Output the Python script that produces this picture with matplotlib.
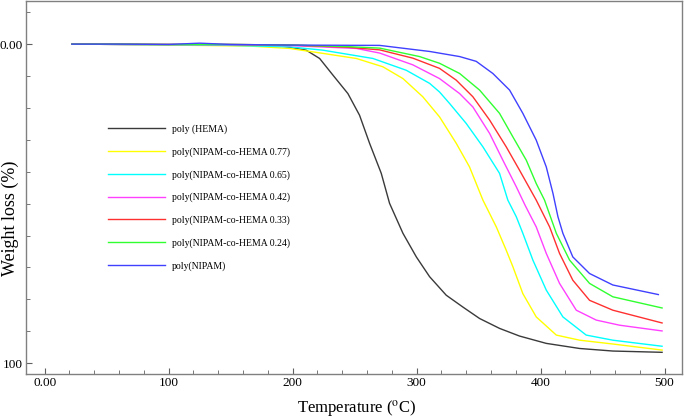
import numpy as np
import matplotlib.pyplot as plt
from matplotlib.ticker import MultipleLocator, FixedLocator

plt.rcParams['font.family'] = ['Liberation Serif', 'DejaVu Serif']
plt.rcParams['mathtext.fontset'] = 'stix'

# TGA curves: temperature (C) vs weight loss (%)
t_hema = [22, 60, 100, 150, 190, 197.6, 211, 221.8, 232.5, 244.6, 254, 262.1, 271.5,
          278.2, 289, 299.8, 310.5, 323.9, 337.3, 350.8, 366.9, 383, 404.6, 431.5,
          458.3, 498]
w_hema = [0.0, 0.1, 0.2, 0.2, 0.6, 1.0, 1.9, 4.5, 9.7, 15.5, 22.3, 31.1, 40.5,
          49.9, 59.3, 66.7, 72.9, 78.7, 82.4, 86.0, 89.1, 91.5, 93.8, 95.4,
          96.2, 96.6]

t_077 = [22, 60, 100, 165, 197.6, 224.4, 251.4, 272.8, 289, 305, 318.5, 332, 342.7,
         353.5, 364.3, 372.3, 377.7, 385.7, 396.5, 412.7, 431.5, 458.3, 498]
w_077 = [0.0, 0.1, 0.3, 0.6, 1.35, 2.9, 4.5, 7.1, 10.8, 16.5, 22.8, 31.1, 38.5,
         48.9, 57.3, 64.6, 69.8, 78.2, 85.5, 91.2, 92.8, 94.0, 95.9]

t_065 = [22, 60, 100, 150, 197.6, 224.4, 264.8, 291.7, 310.5, 318.5, 326.6, 340.1,
         353.5, 366.9, 373.6, 380.4, 385.7, 393.8, 404.6, 418, 436.8, 458.3, 498]
w_065 = [0.0, 0.1, 0.2, 0.4, 0.85, 1.9, 4.5, 8.2, 12.3, 15.0, 18.6, 24.9,
         32.2, 40.5, 48.9, 54.1, 59.3, 67.7, 77.1, 85.5, 91.2, 92.8, 94.7]

t_042 = [22, 60, 100, 150, 200, 251.4, 270.2, 297, 318.5, 334.7, 345.4, 358.9, 369.6,
         380.4, 387.5, 396.5, 404.6, 415.3, 428.8, 444.9, 463.7, 498]
w_042 = [0.0, 0.1, 0.1, 0.2, 0.5, 1.35, 2.8, 6.5, 10.8, 15.5, 19.7, 28.0, 36.4,
         44.7, 50.5, 57.3, 65.6, 75.0, 83.4, 86.5, 88.1, 89.9]

t_033 = [22, 60, 100, 150, 200, 245, 270.2, 297, 318.5, 332, 345.4, 358.9, 372.3,
         383, 396.5, 407.3, 415.3, 426, 439.5, 458.3, 498]
w_033 = [0.0, 0.0, 0.1, 0.1, 0.3, 1.0, 1.8, 4.4, 7.6, 11.3, 16.5, 23.8, 32.2,
         39.5, 48.9, 57.3, 65.6, 74.0, 80.3, 83.4, 87.4]

t_024 = [22, 60, 100, 150, 200, 245, 270.2, 302.4, 318.5, 334.7, 350.8, 366.9, 377.7,
         388.5, 396.5, 403.2, 412.7, 423.4, 439.5, 458.3, 498]
w_024 = [0.0, 0.0, 0.1, 0.1, 0.3, 0.8, 1.25, 3.9, 6.0, 9.2, 14.4, 21.7, 29.1,
         36.4, 43.7, 48.9, 59.3, 67.7, 75.0, 79.2, 82.7]

t_nipam = [22, 60, 100, 125, 150, 197.6, 270.2, 310.5, 334.7, 348.1, 361.5, 375,
           385.7, 396.5, 404.6, 410, 414, 418, 426, 439.5, 458.3, 495]
w_nipam = [0.0, 0.0, 0.1, -0.3, 0.1, 0.3, 0.4, 2.3, 3.9, 5.4, 9.2, 14.4,
           21.7, 30.1, 38.5, 46.8, 54.1, 59.3, 66.7, 71.9, 75.5, 78.5]

series = [
    (t_hema, w_hema, '#3a3a3a', 'poly (HEMA)'),
    (t_077, w_077, '#ffff00', 'poly(NIPAM-co-HEMA 0.77)'),
    (t_065, w_065, '#00ffff', 'poly(NIPAM-co-HEMA 0.65)'),
    (t_042, w_042, '#ff40ff', 'poly(NIPAM-co-HEMA 0.42)'),
    (t_033, w_033, '#ff3030', 'poly(NIPAM-co-HEMA 0.33)'),
    (t_024, w_024, '#30ff30', 'poly(NIPAM-co-HEMA 0.24)'),
    (t_nipam, w_nipam, '#4040ff', 'poly(NIPAM)'),
]

fig = plt.figure(figsize=(6.85, 4.2), dpi=100)
ax = fig.add_axes([0.038, 0.1095, 0.9575, 0.888])

for t, w, c, lab in series:
    ax.plot(t, w, color=c, lw=1.0, label=lab)

ax.set_xlim(-15, 514)
ax.set_ylim(103.4, -13.5)

ax.xaxis.set_major_locator(FixedLocator([0, 100, 200, 300, 400, 500]))
ax.set_xticklabels(['0.00', '100', '200', '300', '400', '500'])
ax.xaxis.set_minor_locator(MultipleLocator(20))
ax.yaxis.set_major_locator(FixedLocator([0, 100]))
ax.set_yticklabels(['0.00', '100'])
ax.yaxis.set_minor_locator(MultipleLocator(10))

ax.tick_params(which='both', direction='in', colors='#606060', labelcolor='black',
               labelsize=9.5, pad=2.5)
ax.tick_params(which='major', length=4)
ax.tick_params(which='minor', length=3)
for s in ax.spines.values():
    s.set_color('#808080')
    s.set_linewidth(1.0)

fig.text(357 / 685, 1 - 409 / 420, 'Temperature ($^{\\mathrm{o}}$C)', fontsize=12,
         ha='center', va='center')
fig.text(10 / 685, 1 - 218 / 420, 'Weight loss (%)', fontsize=13, rotation=90,
         ha='center', va='center')

ax.legend(loc='upper left', bbox_to_anchor=(0.125, 0.669), frameon=False,
          fontsize=7, handlelength=5.9, handletextpad=0.7, labelspacing=1.35,
          borderpad=0, borderaxespad=0)

fig.savefig('out.png', dpi=100)
